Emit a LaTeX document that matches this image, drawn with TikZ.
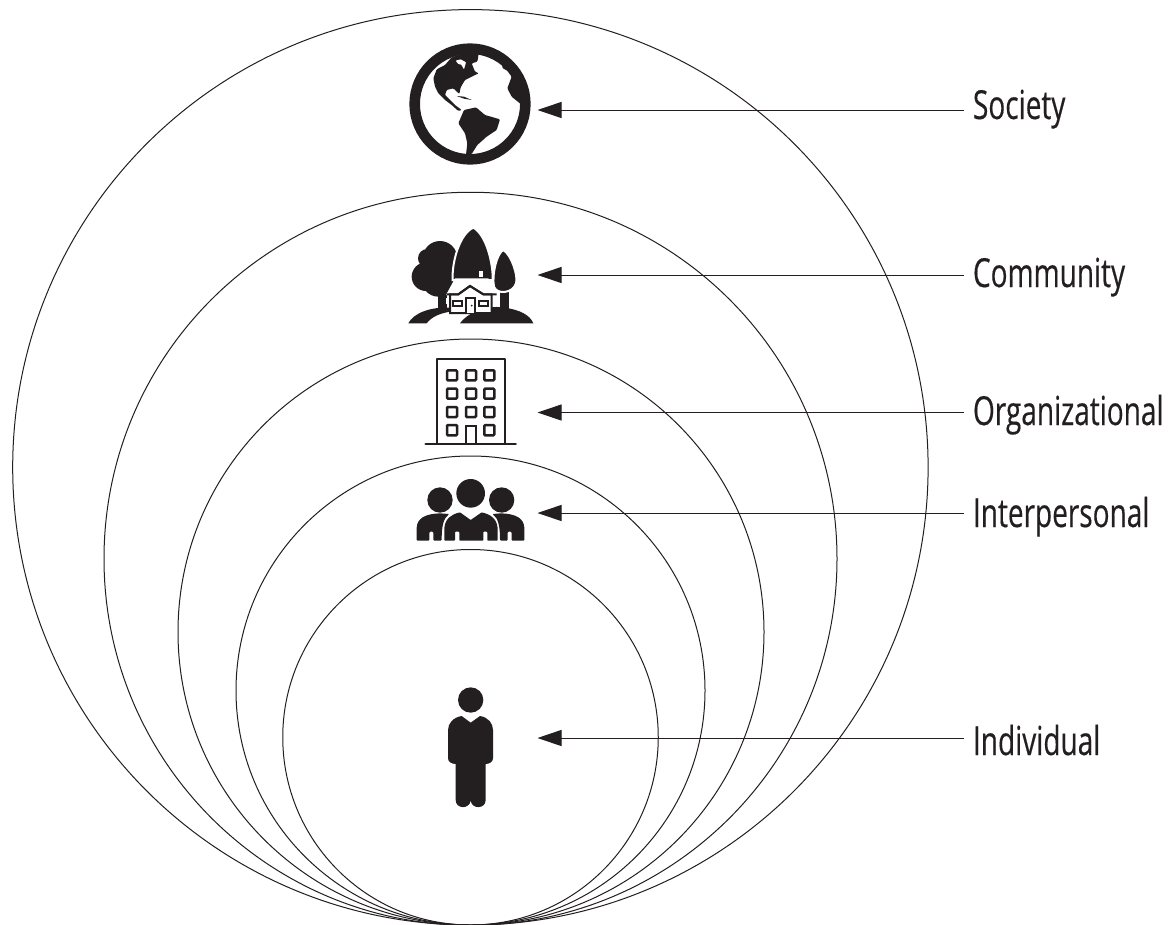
\documentclass[tikz,border=0pt]{standalone}
\usepackage{fontspec}
\setmainfont[FakeStretch=0.70,FakeBold=0.35]{Open Sans}
\usetikzlibrary{arrows.meta}
\definecolor{ink}{HTML}{231F20}
\tikzset{
  ring/.style={draw=ink,line width=1pt},
  lbl/.style={anchor=base west,inner sep=0pt,outer sep=0pt,text=ink,font=\fontsize{40}{40}\selectfont},
  conn/.style={draw=ink,line width=1pt,{Triangle[length=24pt,width=16pt]}-},
  zoomed/.style={x=1pt,y=-1pt,scale=1/3}
}
\begin{document}
\begin{tikzpicture}[x=1pt,y=-1pt]
\useasboundingbox (0,0) rectangle (1169,924);
\fill[white] (0,0) rectangle (1169,924);
\begin{scope}
\clip (0,0) rectangle (1169,924);
\draw[ring] (470.4,467.3) circle[radius=457.7pt];
\draw[ring] (470.5,558.75) circle[radius=366.5pt];
\draw[ring] (471,632) circle[radius=293pt];
\draw[ring] (470.5,690.5) circle[radius=234.5pt];
\draw[ring] (470.5,737.25) circle[radius=187.75pt];
\end{scope}
% Labels
\node[lbl] (society) at (973,119) {Society};
\node[lbl] (community) at (973,287) {Community};
\node[lbl] (organizational) at (973,425) {Organizational};
\node[lbl] (interpersonal) at (973,527) {Interpersonal};
\node[lbl] (individual) at (973,755) {Individual};
% Arrow tips
\coordinate (tipS) at (537.5,110);
\coordinate (tipC) at (537.5,275);
\coordinate (tipO) at (537.5,412.5);
\coordinate (tipP) at (537.5,513);
\coordinate (tipI) at (537.5,738);
\draw[conn] (tipS) -- ([xshift=-9pt]society.west |- tipS);
\draw[conn] (tipC) -- ([xshift=-9pt]community.west |- tipC);
\draw[conn] (tipO) -- ([xshift=-9pt]organizational.west |- tipO);
\draw[conn] (tipP) -- ([xshift=-9pt]interpersonal.west |- tipP);
\draw[conn] (tipI) -- ([xshift=-9pt]individual.west |- tipI);
% Globe
\begin{scope}[shift={(390,30)},zoomed]
\begin{scope}
\clip (240,222) circle[radius=165pt];
\fill[ink,rounded corners=1pt] (130,145) -- (140,118) -- (165,105) -- (185,82) -- (215,72) -- (245,60) -- (268,60) -- (262,95) -- (245,100) -- (255,125) -- (266,130) -- (245,140) -- (225,150) -- (212,172) -- (208,192) -- (190,175) -- (170,180) -- (165,195) -- (180,210) -- (195,225) -- (215,240) -- (205,243) -- (185,225) -- (165,210) -- (145,190) -- (135,170) -- cycle;
\fill[ink,rounded corners=1pt] (335,100) -- (338,115) -- (352,122) -- (365,140) -- (352,175) -- (365,200) -- (392,222) -- (410,222) -- (410,130) -- cycle;
\fill[white,rounded corners=0.5pt] (197,92) -- (212,88) -- (228,97) -- (222,118) -- (214,104) -- (205,102) -- cycle;
\fill[ink] (200,198) -- (222,200) -- (245,210) -- (222,206) -- cycle;
\end{scope}
\fill[ink,rounded corners=1pt] (205,280) -- (222,240) -- (258,232) -- (285,255) -- (330,268) -- (320,300) -- (290,320) -- (262,345) -- (245,372) -- (228,374) -- (232,340) -- (225,310) -- cycle;
\draw[ink,line width=10.6pt] (240,222) circle[radius=166pt];
\end{scope}
% Community
\begin{scope}[shift={(390,215)},zoomed]
\fill[ink] (150,130) circle[radius=52pt] (112,130) circle[radius=28pt] (108,185) circle[radius=43pt] (145,195) circle[radius=50pt];
\fill[ink] (145,225) rectangle (172,285);
\fill[ink] (55,325) .. controls (70,295) and (120,275) .. (180,278) -- (180,290) .. controls (150,295) and (125,305) .. (110,325) -- cycle;
\fill[ink] (330,225) rectangle (356,290);
\draw[white,line width=2pt,fill=ink] (340,105) .. controls (365,120) and (385,185) .. (378,205) .. controls (370,235) and (320,240) .. (312,215) .. controls (305,180) and (320,115) .. (340,105) -- cycle;
\draw[white,line width=2pt,fill=ink] (250,38) .. controls (290,60) and (310,150) .. (308,195) -- (188,195) .. controls (185,140) and (210,55) .. (250,38) -- cycle;
\fill[ink] (210,325) .. controls (240,285) and (300,270) .. (345,278) .. controls (390,285) and (420,300) .. (430,325) -- cycle;
\fill[white] (268,168) rectangle (280,187);
\fill[white] (167,250) rectangle (173,268);
\fill[white] (312,245) rectangle (328,270);
\fill[white] (168,240) -- (195,190) -- (295,190) -- (322,240) -- cycle;
\filldraw[fill=white,draw=ink,line width=2pt,line join=miter] (180,238) -- (205,238) -- (240,213) -- (280,238) -- (305,238) -- (305,294) -- (180,294) -- cycle;
\draw[ink,line width=2pt] (170,238) -- (205,238) -- (240,213) -- (280,238) -- (320,238);
\draw[ink,line width=1.7pt,fill=white] (190,259) rectangle (217,274) (268,259) rectangle (295,274);
\draw[ink,line width=1.7pt,fill=white] (228,294) -- (228,250) -- (256,250) -- (256,294);
\fill[ink] (245,272) circle[radius=3pt];
\end{scope}
% Building
\begin{scope}[shift={(400,350)},zoomed]
\draw[ink,line width=2.3pt,line join=round] (110,282) -- (110,28) -- (314,28) -- (314,282);
\foreach \cx in {156,213,268}{
  \foreach \cy in {76,131,186}{
    \draw[ink,line width=2.5pt,rounded corners=1pt] (\cx-15,\cy-15) rectangle (\cx+15,\cy+15);
  }
}
\draw[ink,line width=2.5pt,rounded corners=1pt] (141,225) rectangle (171,256);
\draw[ink,line width=2.5pt,rounded corners=1pt] (253,225) rectangle (283,256);
\draw[ink,line width=2.3pt] (197,282) -- (197,229) -- (228,229) -- (228,282);
\draw[ink,line width=2.7pt,line cap=round] (77,282) -- (347,282);
\end{scope}
% People
\begin{scope}[shift={(400,350)},zoomed]
\fill[ink] (212,430) circle[radius=43pt] (120,450) circle[radius=38pt] (305,450) circle[radius=38pt];
\fill[ink,rounded corners=1pt] (50,572) -- (50,535) .. controls (52,505) and (75,492) .. (120,490) -- (148,492) .. controls (130,505) and (125,530) .. (125,572) -- (100,572) -- (100,545) -- (88,545) -- (88,572) -- cycle;
\fill[ink,rounded corners=1pt] (373,572) -- (373,535) .. controls (371,505) and (348,492) .. (303,490) -- (277,492) .. controls (295,505) and (300,530) .. (300,572) -- (323,572) -- (323,545) -- (335,545) -- (335,572) -- cycle;
\fill[ink,rounded corners=0.7pt] (133,572) -- (133,535) .. controls (136,505) and (155,493) .. (180,487) -- (212,510) -- (245,487) .. controls (270,493) and (290,505) .. (293,535) -- (293,572) -- (262,572) -- (262,545) -- (250,545) -- (250,572) -- (178,572) -- (178,545) -- (165,545) -- (165,572) -- cycle;
\end{scope}
% Individual
\begin{scope}[shift={(420,670)},zoomed]
\fill[ink] (152,90) circle[radius=38pt];
\fill[ink] (125,138) -- (152,158) -- (180,138) .. controls (205,142) and (219,160) .. (219,180) -- (219,265) .. controls (219,275) and (208,282) .. (197,282) -- (197,390) .. controls (197,418) and (155,418) .. (152,392) .. controls (149,418) and (107,418) .. (107,390) -- (107,282) .. controls (95,282) and (84,275) .. (84,265) -- (84,180) .. controls (84,160) and (100,142) .. (125,138) -- cycle;
\end{scope}
\end{tikzpicture}
\end{document}
